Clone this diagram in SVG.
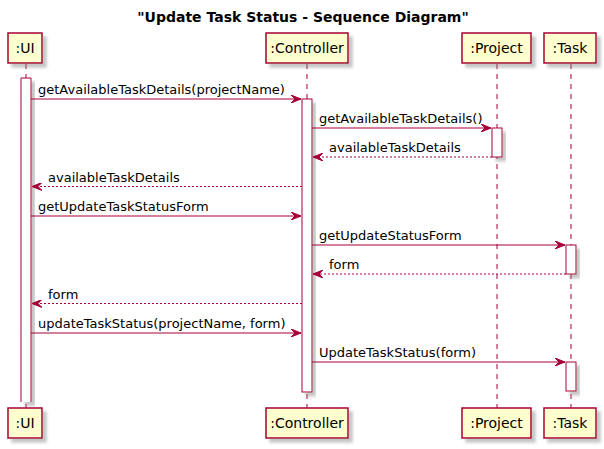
<svg xmlns="http://www.w3.org/2000/svg" width="604" height="449" viewBox="0 0 604 449">
<defs>
<filter id="sh" x="-20%" y="-20%" width="160%" height="160%">
<feGaussianBlur in="SourceAlpha" stdDeviation="1.8" result="b"/>
<feOffset in="b" dx="4" dy="4" result="o"/>
<feComponentTransfer in="o" result="g"><feFuncA type="linear" slope="0.45"/></feComponentTransfer>
<feFlood flood-color="#808080"/>
<feComposite in2="g" operator="in" result="s"/>
<feMerge><feMergeNode in="s"/><feMergeNode in="SourceGraphic"/></feMerge>
</filter>
<marker id="ah" viewBox="0 0 10 8" refX="10" refY="4" markerWidth="10" markerHeight="8" markerUnits="userSpaceOnUse" orient="auto">
<path d="M0,0 L10,4 L0,8 L4,4 Z" fill="#A80036" stroke="#A80036" stroke-width="1"/>
</marker>
</defs>
<style>
.box{fill:#FEFECE;stroke:#A80036;stroke-width:1.5}
.act{fill:#FFFFFF;stroke:#A80036;stroke-width:1}
.life{stroke:#A80036;stroke-width:1;stroke-dasharray:5,5}
.pt{font-family:"DejaVu Sans",sans-serif;font-size:14px;fill:#000;text-anchor:middle}
.msg{font-family:"DejaVu Sans",sans-serif;font-size:13px;fill:#000}
.call{stroke:#A80036;stroke-width:1;fill:none;marker-end:url(#ah)}
.ret{stroke:#A80036;stroke-width:1;fill:none;stroke-dasharray:2,2;marker-end:url(#ah)}
.title{font-family:"DejaVu Sans",sans-serif;font-size:14px;font-weight:bold;fill:#000;text-anchor:middle}
</style>
<rect width="604" height="449" fill="#FFFFFF"/>
<text class="title" x="303" y="22">"Update Task Status - Sequence Diagram"</text>

<g id="lifelines">
<line class="life" x1="26" y1="64" x2="26" y2="408"/>
<line class="life" x1="307" y1="64" x2="307" y2="408"/>
<line class="life" x1="497" y1="64" x2="497" y2="408"/>
<line class="life" x1="571" y1="64" x2="571" y2="408"/>
</g>

<g id="ui">
<rect class="box" filter="url(#sh)" x="8" y="33" width="34" height="30"/>
<text class="pt" x="25" y="53">:UI</text>
<rect class="box" filter="url(#sh)" x="8" y="408" width="34" height="30"/>
<text class="pt" x="25" y="428">:UI</text>
<path d="M21,402 L21,78 L31,78 L31,402" fill="#FFFFFF" stroke="#A80036" stroke-width="1" filter="url(#sh)"/>
</g>

<g id="controller">
<rect class="box" filter="url(#sh)" x="266" y="33" width="82" height="30"/>
<text class="pt" x="307" y="53">:Controller</text>
<rect class="box" filter="url(#sh)" x="266" y="408" width="82" height="30"/>
<text class="pt" x="307" y="428">:Controller</text>
<rect class="act" filter="url(#sh)" x="302" y="99" width="10" height="293"/>
</g>

<g id="project">
<rect class="box" filter="url(#sh)" x="462" y="33" width="69" height="30"/>
<text class="pt" x="496.5" y="53">:Project</text>
<rect class="box" filter="url(#sh)" x="462" y="408" width="69" height="30"/>
<text class="pt" x="496.5" y="428">:Project</text>
<rect class="act" filter="url(#sh)" x="492" y="128" width="10" height="29"/>
</g>

<g id="task">
<rect class="box" filter="url(#sh)" x="544" y="33" width="52" height="30"/>
<text class="pt" x="570" y="53">:Task</text>
<rect class="box" filter="url(#sh)" x="544" y="408" width="52" height="30"/>
<text class="pt" x="570" y="428">:Task</text>
<rect class="act" filter="url(#sh)" x="566" y="245" width="10" height="29"/>
<rect class="act" filter="url(#sh)" x="566" y="362" width="10" height="29"/>
</g>

<g id="connectors">
<line class="call" x1="31" y1="99" x2="301" y2="99"/>
<text class="msg" x="38" y="94">getAvailableTaskDetails(projectName)</text>
<line class="call" x1="312" y1="128" x2="491" y2="128"/>
<text class="msg" x="319" y="123">getAvailableTaskDetails()</text>
<line class="ret" x1="492" y1="157" x2="313" y2="157"/>
<text class="msg" x="329" y="152">availableTaskDetails</text>
<line class="ret" x1="302" y1="186.5" x2="32" y2="186.5"/>
<text class="msg" x="48" y="181.5">availableTaskDetails</text>
<line class="call" x1="31" y1="216" x2="301" y2="216"/>
<text class="msg" x="38" y="211">getUpdateTaskStatusForm</text>
<line class="call" x1="312" y1="245" x2="565" y2="245"/>
<text class="msg" x="319" y="240">getUpdateStatusForm</text>
<line class="ret" x1="566" y1="274" x2="313" y2="274"/>
<text class="msg" x="329" y="269">form</text>
<line class="ret" x1="302" y1="303.5" x2="32" y2="303.5"/>
<text class="msg" x="48" y="298.5">form</text>
<line class="call" x1="31" y1="333" x2="301" y2="333"/>
<text class="msg" x="38" y="328">updateTaskStatus(projectName, form)</text>
<line class="call" x1="312" y1="362" x2="565" y2="362"/>
<text class="msg" x="319" y="357">UpdateTaskStatus(form)</text>
</g>
</svg>
